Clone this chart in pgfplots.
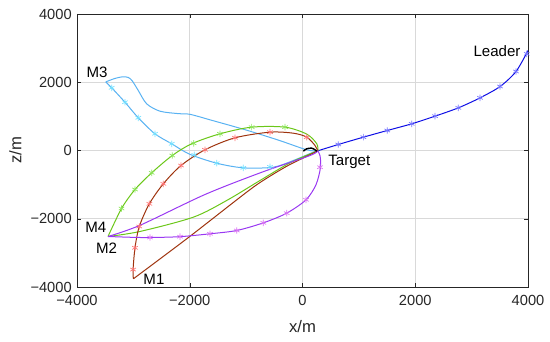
\documentclass[border=0pt]{standalone}
\usepackage{fontspec}
\setmainfont{Liberation Sans}
\usepackage{pgfplots}
\pgfplotsset{compat=1.18}
\definecolor{leadc}{rgb}{0.05,0.05,0.9}
\definecolor{leadm}{rgb}{0.45,0.45,1}
\definecolor{m1c}{rgb}{0.62,0.2,0.05}
\definecolor{m1m}{rgb}{1,0.45,0.45}
\definecolor{m2c}{rgb}{0.6,0.22,0.95}
\definecolor{m2m}{rgb}{0.85,0.45,0.95}
\definecolor{m3c}{rgb}{0.35,0.7,0.95}
\definecolor{m3m}{rgb}{0.45,0.88,1}
\definecolor{m4c}{rgb}{0.42,0.78,0.1}
\definecolor{m4m}{rgb}{0.55,0.9,0.35}
\begin{document}
\fontsize{11.3}{13}\selectfont
\begin{tikzpicture}
\begin{axis}[name=ax, scale only axis, width=338.25pt, height=204.75pt,
  xmin=-4000, xmax=4000, ymin=-4000, ymax=4000,
  xtick={-4000,-2000,0,2000,4000}, xticklabels={−4000,−2000,0,2000,4000},
  ytick={-4000,-2000,0,2000,4000}, yticklabels={−4000,−2000,0,2000,4000},
  grid=major, grid style={black!15, line width=0.4pt},
  axis line style={black!85, line width=0.5pt}, tick style={black!85}, tick align=inside,
  major tick length=3pt,
  ticklabel style={font=\fontsize{11}{13}\selectfont, text=black!85},
  xticklabel style={yshift=-2.5pt},
  xlabel={x/m}, ylabel={z/m},
  xlabel style={yshift=-3pt},
  ylabel style={yshift=-1pt},
  label style={font=\fontsize{12.5}{14}\selectfont, text=black!85},
  every axis plot/.append style={line width=0.75pt},
  mark options={solid, line width=0.5pt},
]
% Leader
\addplot[leadc, smooth] coordinates {(270,-10) (635,176) (1079,390) (1504,586) (1937,782) (2351,1006) (2764,1250) (3149,1543) (3504,1875) (3787,2315) (4000,2930)};
\addplot[only marks, mark=asterisk, mark size=2.4pt, leadm] coordinates {(635,176) (1079,390) (1504,586) (1937,782) (2351,1006) (2764,1250) (3149,1543) (3504,1875) (3787,2315) (3977,2833)};
% M3 top
\addplot[m3c, smooth, tension=0.5] coordinates {(-3490,2010) (-3330,2110) (-3190,2160) (-3090,2140) (-3020,2040) (-2913,1758) (-2764,1368) (-2528,1152) (-2200,1080) (-1996,1060) (-1600,880) (-1000,600) (-420,300) (75,20) (270,-10)};
% M3 bottom
\addplot[m3c, smooth, tension=0.5] coordinates {(-3490,2010) (-3385,1837) (-3149,1415) (-2913,958) (-2617,489) (-2320,196) (-2000,-110) (-1522,-372) (-1050,-508) (-518,-489) (-163,-293) (192,-49) (270,-10)};
\addplot[only marks, mark=asterisk, mark size=2.4pt, m3m] coordinates {(-3385,1837) (-3149,1415) (-2913,958) (-2617,489) (-2320,196) (-1920,-130) (-1522,-372) (-1050,-508) (-577,-480)};
% M4 top
\addplot[m4c, smooth, tension=0.5] coordinates {(-3450,-2520) (-3210,-1700) (-2971,-1143) (-2675,-654) (-2310,-147) (-1966,196) (-1464,489) (-902,684) (-310,684) (75,480) (252,200) (275,-10)};
\addplot[only marks, mark=asterisk, mark size=2.4pt, m4m] coordinates {(-3210,-1700) (-2971,-1143) (-2675,-654) (-2310,-147) (-1930,210) (-1464,489) (-902,684) (-310,684)};
% M4 bottom
\addplot[m4c, smooth, tension=0.5] coordinates {(-3450,-2520) (-2883,-2373) (-1937,-1954) (-1345,-1465) (-754,-879) (-220,-360) (270,-10)};
% M1 top
\addplot[m1c, smooth, tension=0.5] coordinates {(-3000,-3760) (-3005,-3490) (-2971,-2852) (-2895,-2227) (-2717,-1563) (-2469,-977) (-2155,-440) (-1730,20) (-1197,372) (-577,537) (-163,507) (75,391) (222,147) (270,-10)};
\addplot[only marks, mark=asterisk, mark size=2.4pt, m1m] coordinates {(-3005,-3490) (-2971,-2852) (-2895,-2227) (-2717,-1563) (-2469,-977) (-2155,-440) (-1730,20) (-1197,372) (-577,537) (75,391)};
% M1 bottom
\addplot[m1c, smooth, tension=0.4] coordinates {(-3000,-3760) (-2000,-2520) (-873,-1075) (-300,-480) (100,-150) (270,-10)};
% M2 top
\addplot[m2c, smooth, tension=0.5] coordinates {(-3450,-2520) (-2880,-2190) (-1730,-1290) (-720,-636) (130,-150) (270,-10)};
% M2 bottom
\addplot[m2c, smooth, tension=0.5] coordinates {(-3450,-2520) (-3000,-2545) (-2700,-2550) (-2173,-2525) (-1641,-2441) (-1167,-2344) (-695,-2120) (-280,-1836) (62,-1445) (240,-1000) (320,-489) (310,-150) (270,-10)};
\addplot[only marks, mark=asterisk, mark size=2.4pt, m2m] coordinates {(-2705,-2550) (-2173,-2525) (-1641,-2441) (-1167,-2344) (-695,-2120) (-280,-1836) (62,-1445) (310,-489)};
% Target
\addplot[black, smooth, line width=1.1pt] coordinates {(14,-20) (75,50) (163,68) (222,20) (255,-20)};
% labels
\node[text=black] at (axis cs:3450,2900) {Leader};
\node[text=black] at (axis cs:830,-320) {Target};
\node[text=black] at (axis cs:-3645,2285) {M3};
\node[text=black] at (axis cs:-3665,-2265) {M4};
\node[text=black] at (axis cs:-3475,-2850) {M2};
\node[text=black] at (axis cs:-2635,-3780) {M1};
\end{axis}
\pgfresetboundingbox
\path ([shift={(-57.75pt,-40.5pt)}]ax.south west) rectangle ([shift={(16.5pt,10.5pt)}]ax.north east);
\end{tikzpicture}
\end{document}
